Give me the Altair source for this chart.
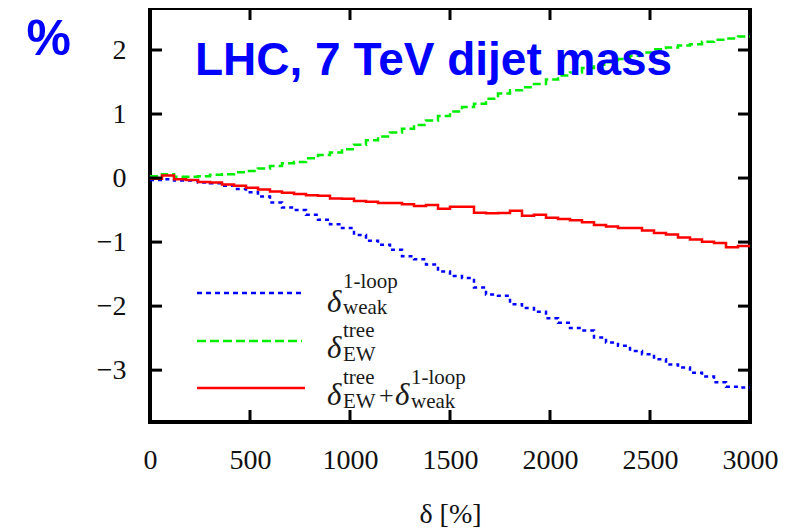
import altair as alt
import pandas as pd

# bin edges: 50 bins of 60 GeV, 0..3000
bin_width = 60
n_bins = 50
edges = [i * bin_width for i in range(n_bins + 1)]

weak_1loop = [-0.03, -0.02, -0.04, -0.04, -0.07, -0.08, -0.12, -0.17, -0.22, -0.29,
              -0.38, -0.46, -0.50, -0.575, -0.65, -0.72, -0.78, -0.89, -0.98, -1.04,
              -1.12, -1.22, -1.27, -1.35, -1.46, -1.53, -1.56, -1.71, -1.82, -1.84,
              -1.97, -2.03, -2.09, -2.19, -2.26, -2.34, -2.38, -2.49, -2.57, -2.62,
              -2.70, -2.75, -2.83, -2.91, -2.96, -3.04, -3.10, -3.19, -3.26, -3.27]

ew_tree = [0.03, 0.06, 0.02, 0.02, 0.03, 0.05, 0.06, 0.09, 0.11, 0.15,
           0.19, 0.23, 0.25, 0.31, 0.36, 0.40, 0.45, 0.52, 0.59, 0.65,
           0.71, 0.77, 0.83, 0.90, 0.97, 1.04, 1.11, 1.16, 1.24, 1.32,
           1.37, 1.42, 1.47, 1.54, 1.60, 1.65, 1.72, 1.77, 1.81, 1.86,
           1.91, 1.96, 2.01, 2.04, 2.07, 2.09, 2.13, 2.16, 2.18, 2.21]

combined = [-0.01, 0.04, -0.02, -0.03, -0.06, -0.07, -0.10, -0.12, -0.15, -0.18,
            -0.21, -0.23, -0.25, -0.27, -0.275, -0.32, -0.325, -0.36, -0.37, -0.39,
            -0.39, -0.41, -0.435, -0.42, -0.48, -0.45, -0.45, -0.54, -0.55, -0.545,
            -0.51, -0.59, -0.575, -0.62, -0.64, -0.66, -0.69, -0.735, -0.755, -0.78,
            -0.78, -0.82, -0.86, -0.88, -0.93, -0.96, -0.995, -1.015, -1.08, -1.06]

x_ticks = [500, 1000, 1500, 2000, 2500]
y_ticks = [-3, -2, -1, 0, 1, 2]
x_labels = [0, 500, 1000, 1500, 2000, 2500, 3000]

W, H = 600, 414
BLUE, GREEN, RED = "#0000ff", "#00ee00", "#ff0000"
SERIF = "Liberation Serif"


def step_frame(vals):
    # step-after: each bin start, plus the closing edge of the last bin
    return pd.DataFrame({"x": edges, "y": vals + [vals[-1]]})


xs = alt.Scale(domain=[0, 3000], nice=False, zero=False)
ys = alt.Scale(domain=[-3.81, 2.656], nice=False, zero=False)

x_axis = alt.Axis(values=x_labels, format="d", title="δ [%]", labelFlush=False,
                  titlePadding=26, titleFont=SERIF, titleColor="#111")
y_axis = alt.Axis(values=y_ticks, format="d", title="%",
                  titleAngle=0, titleAlign="left", titleBaseline="alphabetic",
                  titleX=-124, titleY=46, titleFont="Liberation Sans", titleFontSize=50,
                  titleFontWeight="bold", titleColor=BLUE)

X = lambda: alt.X("x:Q", scale=xs, axis=x_axis)
Y = lambda: alt.Y("y:Q", scale=ys, axis=y_axis)


def series(vals, color, dash):
    kw = dict(interpolate="step-after", color=color, strokeWidth=2.5)
    if dash:
        kw["strokeDash"] = dash
    return alt.Chart(step_frame(vals)).mark_line(**kw).encode(x=X(), y=Y())


blue = series(weak_1loop, BLUE, [4, 4])
green = series(ew_tree, GREEN, [8, 4])
red = series(combined, RED, None)

# inward ticks on all four sides
xt = pd.DataFrame({"x": x_ticks})
yt = pd.DataFrame({"y": y_ticks})
tick_bottom = alt.Chart(xt).mark_rule(color="black", strokeWidth=3).encode(
    x=X(), y=alt.value(H), y2=alt.value(H - 12))
tick_top = alt.Chart(xt).mark_rule(color="black", strokeWidth=3).encode(
    x=X(), y=alt.value(0), y2=alt.value(12))
tick_left = alt.Chart(yt).mark_rule(color="black", strokeWidth=3).encode(
    y=Y(), x=alt.value(0), x2=alt.value(12))
tick_right = alt.Chart(yt).mark_rule(color="black", strokeWidth=3).encode(
    y=Y(), x=alt.value(W), x2=alt.value(W - 12))

# annotation title inside the plot
title_txt = alt.Chart(pd.DataFrame({"t": ["LHC, 7 TeV dijet mass"]})).mark_text(
    font="Liberation Sans", fontSize=46, fontWeight="bold", color=BLUE,
    align="left", baseline="alphabetic").encode(
    text="t:N", x=alt.value(45), y=alt.value(67))

# custom legend
one = pd.DataFrame({"a": [0]})
leg_lines = [
    alt.Chart(one).mark_rule(color=BLUE, strokeWidth=2.5, strokeDash=[5, 4]).encode(
        x=alt.value(47), x2=alt.value(152), y=alt.value(285)),
    alt.Chart(one).mark_rule(color=GREEN, strokeWidth=2.5, strokeDash=[9, 4]).encode(
        x=alt.value(47), x2=alt.value(152), y=alt.value(333)),
    alt.Chart(one).mark_rule(color=RED, strokeWidth=2.5).encode(
        x=alt.value(47), x2=alt.value(155), y=alt.value(380)),
]

leg_parts = pd.DataFrame({
    "t":    ["δ", "1-loop", "weak",
             "δ", "tree", "EW",
             "δ", "tree", "EW", "+", "δ", "1-loop", "weak"],
    "px":   [177, 193, 193,
             177, 193, 193,
             177, 193, 193, 229, 245, 261, 261],
    "py":   [304, 280, 306,
             350, 329, 353,
             397, 376, 400, 396, 397, 376, 400],
    "size": [31, 21, 21,
             31, 21, 21,
             31, 21, 21, 26, 31, 21, 21],
    "style": ["italic", "normal", "normal",
              "italic", "normal", "normal",
              "italic", "normal", "normal", "normal", "italic", "normal", "normal"],
})


def leg_text(style):
    d = leg_parts[leg_parts["style"] == style]
    return alt.Chart(d).mark_text(font=SERIF, fontStyle=style, color="#1a1a1a",
                                  align="left", baseline="alphabetic").encode(
        text="t:N",
        x=alt.X("px:Q", scale=None, axis=None),
        y=alt.Y("py:Q", scale=None, axis=None),
        size=alt.Size("size:Q", scale=None, legend=None),
    )


chart = alt.layer(
    blue, green, red,
    tick_bottom, tick_top, tick_left, tick_right,
    title_txt, *leg_lines, leg_text("italic"), leg_text("normal"),
).resolve_scale(x="shared", y="shared").properties(
    width=W, height=H,
    autosize=alt.AutoSizeParams(type="none"),
    padding={"left": 142, "top": 0, "right": 40, "bottom": 105},
).configure(
    background="white",
    font=SERIF,
    view=alt.ViewConfig(stroke="black", strokeWidth=4),
    axis=alt.AxisConfig(domain=False, ticks=False, grid=False,
                        labelFont=SERIF, labelFontSize=28, labelColor="#111",
                        labelPadding=24, titleFont=SERIF, titleFontSize=28,
                        titleFontWeight="normal", titleColor="#111"),
)

chart.save("out.html", embed_options={"renderer": "svg", "actions": False})
